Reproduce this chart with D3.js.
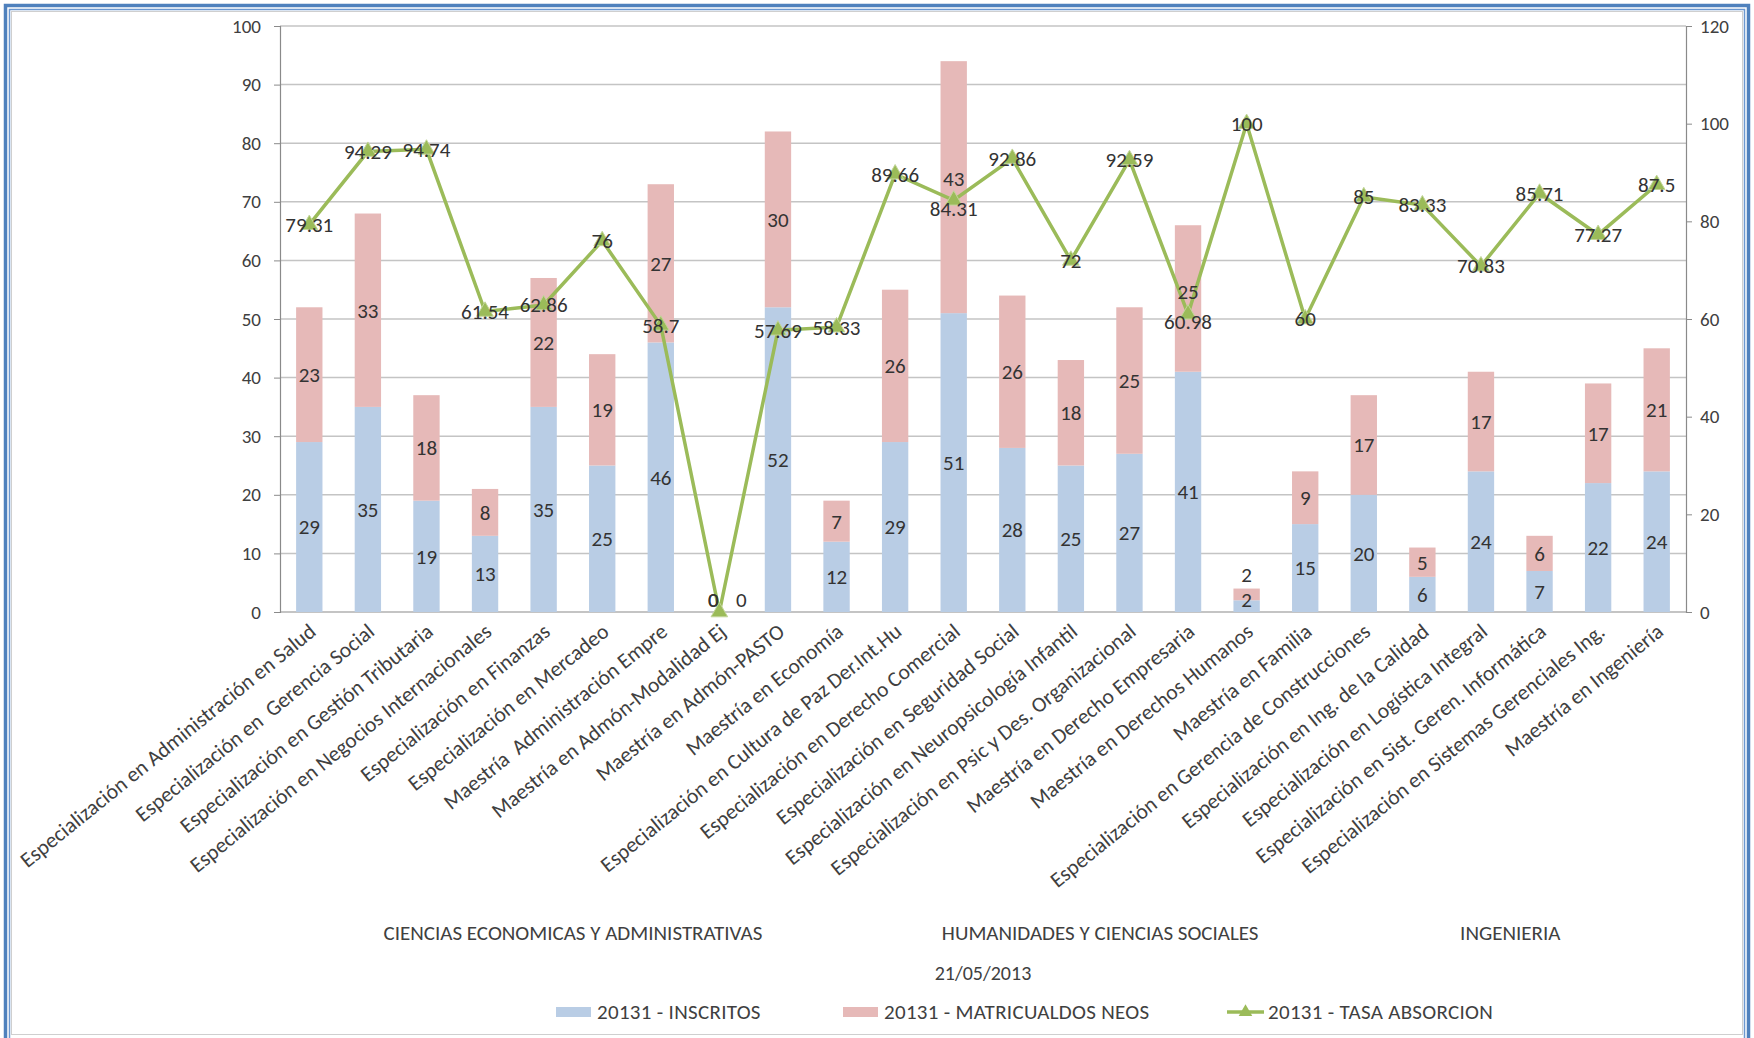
<!DOCTYPE html>
<html>
<head>
    <meta charset="utf-8">
    <title></title>
    <style>
        body { margin: 0; background: #fff; }
        text { font-family: Carlito, Calibri, Lato, sans-serif; fill: #404040; }
    </style>
</head>
<body>
<div id="container"></div>

<script src="https://d3js.org/d3.v7.min.js" type="text/javascript"></script>
<script type="text/javascript">
    const categories = [
        'Especialización en Administración en Salud',
        'Especialización en  Gerencia Social',
        'Especialización en Gestión Tributaria',
        'Especialización en Negocios Internacionales',
        'Especialización en Finanzas',
        'Especialización en Mercadeo',
        'Maestría  Administración Empre',
        'Maestría en Admón-Modalidad Ej',
        'Maestría en Admón-PASTO',
        'Maestría en Economía',
        'Especialización en Cultura de Paz Der.Int.Hu',
        'Especialización en Derecho Comercial',
        'Especialización en Seguridad Social',
        'Especialización en Neuropsicología Infantil',
        'Especialización en Psic y Des. Organizacional',
        'Maestría en Derecho Empresaria',
        'Maestría en Derechos Humanos',
        'Maestría en Familia',
        'Especialización en Gerencia de Construcciones',
        'Especialización en Ing. de la Calidad',
        'Especialización en Logística Integral',
        'Especialización en Sist. Geren. Informática',
        'Especialización en Sistemas Gerenciales Ing.',
        'Maestría en Ingeniería'
    ];
    const inscritos = [29, 35, 19, 13, 35, 25, 46, 0, 52, 12, 29, 51, 28, 25, 27, 41, 2, 15, 20, 6, 24, 7, 22, 24];
    const matriculados = [23, 33, 18, 8, 22, 19, 27, 0, 30, 7, 26, 43, 26, 18, 25, 25, 2, 9, 17, 5, 17, 6, 17, 21];
    const tasa = [79.31, 94.29, 94.74, 61.54, 62.86, 76, 58.7, 0, 57.69, 58.33, 89.66, 84.31, 92.86, 72, 92.59, 60.98, 100, 60, 85, 83.33, 70.83, 85.71, 77.27, 87.5];

    const groups = ['CIENCIAS ECONOMICAS Y ADMINISTRATIVAS', 'HUMANIDADES Y CIENCIAS SOCIALES', 'INGENIERIA'];
    const groupSizes = [10, 8, 6];

    const seriesNames = ['20131 - INSCRITOS', '20131 - MATRICUALDOS NEOS', '20131 - TASA ABSORCION'];
    const leftTicks = [0, 10, 20, 30, 40, 50, 60, 70, 80, 90, 100];
    const rightTicks = [0, 20, 40, 60, 80, 100, 120];
    const dateLabel = '21/05/2013';

    let w = 1754;
    let h = 1038;
    const colors = { blue: '#b9cde5', red: '#e6b9b8', green: '#9bbb59' };

    const svg = d3.select('#container')
        .append('svg')
        .attr('width', w)
        .attr('height', h);

    // frame
    svg.append('rect').attr('x', 5.5).attr('y', 5.5).attr('width', w - 11).attr('height', h + 10)
        .style('fill', 'none').style('stroke', '#4f81bd').style('stroke-width', 3.5);
    svg.append('rect').attr('x', 9.5).attr('y', 9.5).attr('width', w - 19).attr('height', h + 10)
        .style('fill', 'none').style('stroke', '#6b97cf').style('stroke-width', 1.5);
    svg.append('rect').attr('x', 11.5).attr('y', 11.5).attr('width', w - 23).attr('height', h - 15)
        .style('fill', 'none').style('stroke', '#cfcfcf').style('stroke-width', 1);

    const plot = { left: 280, right: 1686, top: 26, bottom: 612 };

    let x = d3.scaleBand().domain(categories).range([plot.left, plot.right])
        .paddingInner(0.55).paddingOuter(0.275);
    let yL = d3.scaleLinear().domain([0, 100]).range([plot.bottom, plot.top]);
    let yR = d3.scaleLinear().domain([0, 120]).range([plot.bottom, plot.top]);
    const cx = d => x(d) + x.bandwidth() / 2;

    // gridlines
    svg.append('g')
        .selectAll('line')
        .data(leftTicks.slice(1))
        .join('line')
        .attr('x1', plot.left).attr('x2', plot.right)
        .attr('y1', d => yL(d)).attr('y2', d => yL(d))
        .style('stroke', '#c4c4c4').style('stroke-width', 1.5);

    const axisL = d3.axisLeft(yL).tickValues(leftTicks).tickSize(6).tickPadding(13);
    const gL = svg.append('g').attr('transform', `translate(${plot.left}, 0)`).call(axisL);
    const axisR = d3.axisRight(yR).tickValues(rightTicks).tickSize(6).tickPadding(8);
    const gR = svg.append('g').attr('transform', `translate(${plot.right}, 0)`).call(axisR);
    [gL, gR].forEach(g => {
        g.select('.domain').style('stroke', '#8a8a8a').style('stroke-width', 1.2);
        g.selectAll('.tick line').style('stroke', '#8a8a8a');
        g.selectAll('.tick text').style('font-size', '19px').style('fill', '#404040')
            .style('font-family', 'Carlito, Calibri, Lato, sans-serif');
    });

    // x axis line
    svg.append('line')
        .attr('x1', plot.left).attr('x2', plot.right)
        .attr('y1', yL(0)).attr('y2', yL(0))
        .style('stroke', '#8a8a8a').style('stroke-width', 1.2);

    // stacked bars
    const rows = categories.map((c, i) => ({ cat: c, inscritos: inscritos[i], matriculados: matriculados[i] }));
    const stack = d3.stack().keys(['inscritos', 'matriculados'])(rows);
    const barColors = [colors.blue, colors.red];

    stack.forEach((layer, k) => {
        svg.append('g')
            .selectAll('rect')
            .data(layer)
            .join('rect')
            .attr('x', d => x(d.data.cat))
            .attr('width', x.bandwidth())
            .attr('y', d => yL(d[1]))
            .attr('height', d => yL(d[0]) - yL(d[1]))
            .style('fill', barColors[k]);
    });

    // label positions: segment centres / markers, pushed apart when they collide
    const labels = categories.map((c, i) => {
        let xc = cx(c);
        let yb = Math.min(yL(inscritos[i] / 2), plot.bottom - 12);
        let yr = Math.min(yL(inscritos[i] + matriculados[i] / 2), plot.bottom - 12);
        let yt = yR(tasa[i]);
        let xt = xc;
        if (matriculados[i] > 0 && yb - yr < 25) yr = yb - 25;
        if (matriculados[i] === 0) {
            // empty bar: the rate label sits beside the zeros
            if (Math.abs(yt - yr) < 26) { yt = yr; xt = xc + 22; }
        } else if (Math.abs(yt - yr) < 26) {
            let shift = (30 - Math.abs(yt - yr)) / 2;
            if (yt >= yr) { yt += shift; yr -= shift; } else { yt -= shift; yr += shift; }
        }
        return { xb: xc - 6 * (matriculados[i] === 0), xt: xt, yb: yb, yr: yr, yt: yt };
    });

    const labelSets = [
        { x: 'xb', y: 'yb', values: inscritos },
        { x: 'xb', y: 'yr', values: matriculados },
        { x: 'xt', y: 'yt', values: tasa }
    ];

    // tasa line
    const line = d3.line()
        .x((d, i) => cx(categories[i]))
        .y(d => yR(d));
    svg.append('path')
        .datum(tasa)
        .attr('d', line)
        .style('fill', 'none')
        .style('stroke', colors.green)
        .style('stroke-width', 3.5);

    svg.append('g')
        .selectAll('path')
        .data(tasa)
        .join('path')
        .attr('d', d3.symbol().type(d3.symbolTriangle).size(120))
        .attr('transform', (d, i) => `translate(${cx(categories[i])}, ${yR(d)})`)
        .style('fill', colors.green)
        .style('stroke', '#c3d69b')
        .style('stroke-width', 1);

    labelSets.forEach(set => {
        svg.append('g')
            .selectAll('text')
            .data(set.values)
            .join('text')
            .attr('x', (d, i) => labels[i][set.x])
            .attr('y', (d, i) => labels[i][set.y])
            .attr('dy', '0.35em')
            .attr('text-anchor', 'middle')
            .style('font-size', '21px')
            .style('fill', '#333')
            .text(d => d);
    });

    // category labels
    svg.append('g')
        .selectAll('text')
        .data(categories)
        .join('text')
        .attr('transform', d => `translate(${cx(d) + 8}, ${plot.bottom + 22}) rotate(-39)`)
        .attr('text-anchor', 'end')
        .style('font-size', '21.5px')
        .style('white-space', 'pre')
        .text(d => d);

    // group labels
    let start = 0;
    groups.forEach((g, i) => {
        let first = categories[start];
        let last = categories[start + groupSizes[i] - 1];
        let mid = (x(first) + x(last) + x.bandwidth()) / 2;
        svg.append('text')
            .attr('x', mid)
            .attr('y', 933)
            .attr('dy', '0.35em')
            .attr('text-anchor', 'middle')
            .style('font-size', '21px')
            .text(g);
        start += groupSizes[i];
    });

    svg.append('text')
        .attr('x', (plot.left + plot.right) / 2)
        .attr('y', 973)
        .attr('dy', '0.35em')
        .attr('text-anchor', 'middle')
        .style('font-size', '20px')
        .text(dateLabel);

    // legend
    const legendX = [556, 843, 1227];
    const legend = svg.append('g').attr('transform', 'translate(0, 1012)');
    seriesNames.forEach((name, i) => {
        const g = legend.append('g').attr('transform', `translate(${legendX[i]}, 0)`);
        if (i < 2) {
            g.append('rect').attr('x', 0).attr('y', -5).attr('width', 35).attr('height', 10)
                .style('fill', barColors[i]);
        } else {
            g.append('line').attr('x1', 0).attr('x2', 37).attr('y1', 0).attr('y2', 0)
                .style('stroke', colors.green).style('stroke-width', 3.5);
            g.append('path')
                .attr('d', d3.symbol().type(d3.symbolTriangle).size(80))
                .attr('transform', 'translate(18.5, 0)')
                .style('fill', colors.green);
        }
        g.append('text')
            .attr('x', 41)
            .attr('y', 0)
            .attr('dy', '0.35em')
            .style('font-size', '21px')
            .style('letter-spacing', '0.3px')
            .text(name);
    });
</script>

</body>
</html>
